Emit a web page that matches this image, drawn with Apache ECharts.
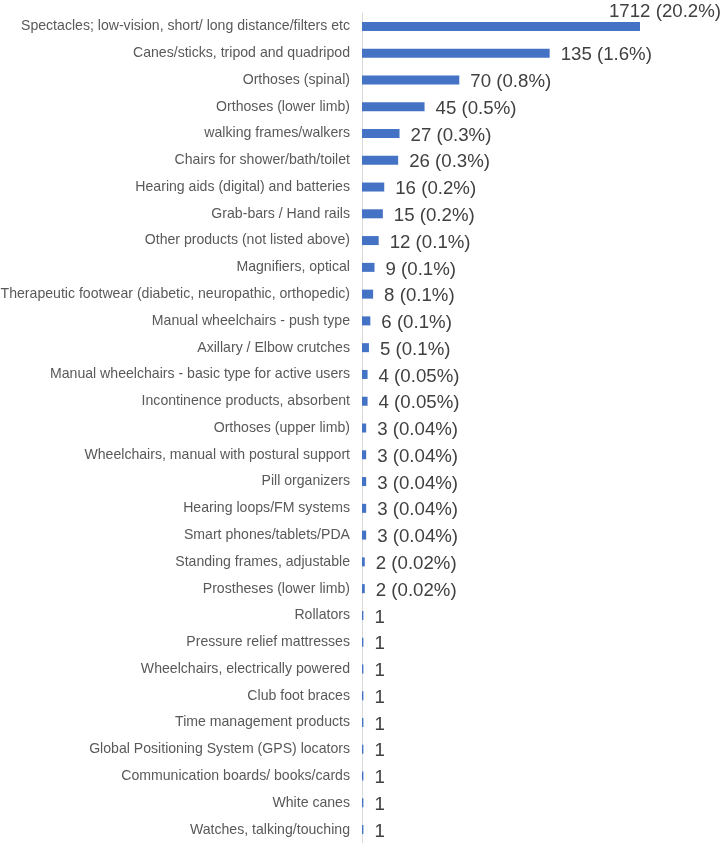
<!DOCTYPE html>
<html>
<head>
<meta charset="utf-8">
<script src="https://cdn.jsdelivr.net/npm/echarts@6/dist/echarts.min.js"></script>
<style>
html,body{margin:0;padding:0;background:#fff;}
#chart{width:722px;height:843px;}
</style>
</head>
<body>
<div id="chart"></div>
<script>
const categories = [
  "Spectacles; low-vision, short/ long distance/filters etc",
  "Canes/sticks, tripod and quadripod",
  "Orthoses (spinal)",
  "Orthoses (lower limb)",
  "walking frames/walkers",
  "Chairs for shower/bath/toilet",
  "Hearing aids (digital) and batteries",
  "Grab-bars / Hand rails",
  "Other products (not listed above)",
  "Magnifiers, optical",
  "Therapeutic footwear (diabetic, neuropathic, orthopedic)",
  "Manual wheelchairs - push type",
  "Axillary / Elbow crutches",
  "Manual wheelchairs - basic type for active users",
  "Incontinence products, absorbent",
  "Orthoses (upper limb)",
  "Wheelchairs, manual with postural support",
  "Pill organizers",
  "Hearing loops/FM systems",
  "Smart phones/tablets/PDA",
  "Standing frames, adjustable",
  "Prostheses (lower limb)",
  "Rollators",
  "Pressure relief mattresses",
  "Wheelchairs, electrically powered",
  "Club foot braces",
  "Time management products",
  "Global Positioning System (GPS) locators",
  "Communication boards/ books/cards",
  "White canes",
  "Watches, talking/touching"
];
const counts = [1712,135,70,45,27,26,16,15,12,9,8,6,5,4,4,3,3,3,3,3,2,2,1,1,1,1,1,1,1,1,1];
const percents = ["20.2%","1.6%","0.8%","0.5%","0.3%","0.3%","0.2%","0.2%","0.1%","0.1%","0.1%","0.1%","0.1%","0.05%","0.05%","0.04%","0.04%","0.04%","0.04%","0.04%","0.02%","0.02%","","","","","","","","",""];
const axisMax = 200;

const FONT = "'Liberation Sans', Arial, sans-serif";
const data = counts.map(function(v, i){
  const item = {value: v};
  if (i === 0) {
    item.label = {position: ['100%', 0], align: 'center', verticalAlign: 'bottom', distance: 0, offset: [25, -1]};
  }
  return item;
});

const chart = echarts.init(document.getElementById('chart'), null, {renderer: 'canvas'});
chart.setOption({
  animation: false,
  grid: {left: 362, right: 82, top: 13, bottom: 0, containLabel: false, outerBoundsMode: 'none'},
  xAxis: {
    type: 'value', min: 0, max: axisMax, show: false
  },
  yAxis: {
    type: 'category', data: categories, inverse: true,
    axisLine: {show: true, lineStyle: {color: '#d9d9d9', width: 1}},
    axisTick: {show: false},
    axisLabel: {color: '#595959', fontSize: 14.1, fontFamily: FONT, margin: 12},
    splitLine: {show: false}
  },
  series: [{
    type: 'bar',
    data: data,
    barWidth: 9,
    clip: true,
    itemStyle: {color: '#4472C4'},
    label: {
      show: true, position: 'right', distance: 11, offset: [0, 2],
      color: '#404040', fontSize: 18.67, fontFamily: FONT,
      formatter: function(p){
        const pc = percents[p.dataIndex];
        return pc ? (counts[p.dataIndex] + ' (' + pc + ')') : String(counts[p.dataIndex]);
      }
    }
  }]
});
</script>
</body>
</html>
